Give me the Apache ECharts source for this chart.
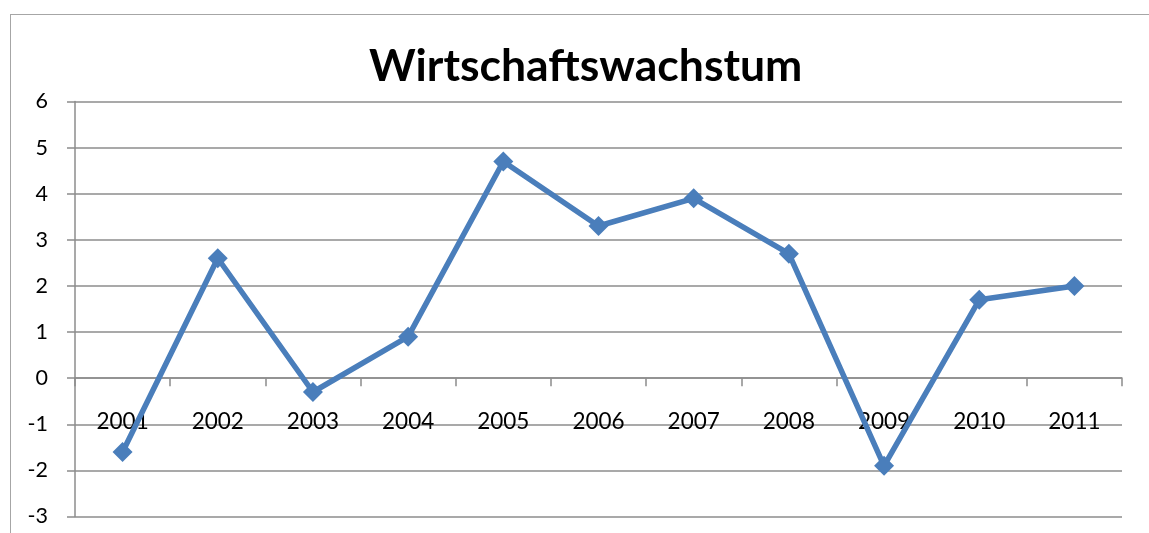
<!DOCTYPE html>
<html>
<head>
<meta charset="utf-8">
<script src="https://cdn.jsdelivr.net/npm/echarts@6/dist/echarts.min.js"></script>
<style>
  html, body { margin: 0; padding: 0; background: #fff; overflow: hidden; }
  #frame { position: absolute; left: 10px; top: 14px; width: 1200px; height: 600px;
           border: 1.5px solid #a6a6a6; box-sizing: border-box; }
  #chart { position: absolute; left: 0; top: 0; width: 1149px; height: 533px; }
</style>
</head>
<body>
<div id="frame"></div>
<div id="chart"></div>
<script>
// Jahre und Wachstumswerte
const years = ['2001', '2002', '2003', '2004', '2005', '2006', '2007', '2008', '2009', '2010', '2011'];
const growth = [-1.6, 2.6, -0.3, 0.9, 4.7, 3.3, 3.9, 2.7, -1.9, 1.7, 2.0];
const yTicks = [-3, 6, 1]; // min, max, interval

const chart = echarts.init(document.getElementById('chart'));
const grey = '#8c8c8c';
// x-Achse liegt auf der Nulllinie: Abstand vom unteren Rand des Plotbereichs
const gridTop = 101.5, gridBottom = 16.5;
const plotH = 533 - gridTop - gridBottom;
const zeroOffset = plotH * (0 - yTicks[0]) / (yTicks[1] - yTicks[0]);

const option = {
    animation: false,
    title: {
        text: 'Wirtschaftswachstum',
        left: 364,
        top: 39,
        textStyle: { fontFamily: 'Lato', fontWeight: 'bold', fontSize: 44.5, color: '#000' }
    },
    grid: { left: 75, right: 27, top: gridTop, bottom: gridBottom, outerBoundsMode: 'none', containLabel: false },
    xAxis: {
        type: 'category',
        data: years,
        boundaryGap: true,
        offset: -zeroOffset,
        axisLine: { onZero: false, lineStyle: { color: grey, width: 1.5 } },
        axisTick: { show: true, length: 8, lineStyle: { color: grey, width: 1.5 } },
        axisLabel: { margin: 32, fontFamily: 'Lato', fontSize: 22.5, color: '#000' },
        splitLine: { show: false }
    },
    yAxis: {
        type: 'value',
        min: yTicks[0],
        max: yTicks[1],
        interval: yTicks[2],
        axisLine: { show: true, lineStyle: { color: grey, width: 1.5 } },
        axisTick: { show: true, length: 8, lineStyle: { color: grey, width: 1.5 } },
        axisLabel: { margin: 27, fontFamily: 'Lato', fontSize: 21.5, color: '#000' },
        splitLine: { show: true, lineStyle: { color: grey, width: 1.5 } }
    },
    series: [{
        type: 'line',
        data: growth,
        symbol: 'diamond',
        symbolSize: 20,
        showAllSymbol: true,
        lineStyle: { color: '#4A7EBB', width: 5.5 },
        itemStyle: { color: '#4A7EBB' }
    }]
};
chart.setOption(option);
</script>
</body>
</html>
